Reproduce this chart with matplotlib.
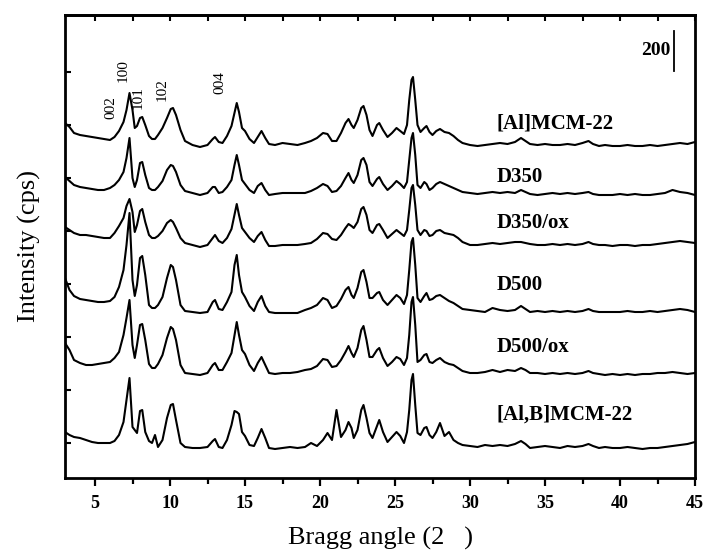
import numpy as np
import matplotlib
matplotlib.use("Agg")
import matplotlib.pyplot as plt
from matplotlib.ticker import MultipleLocator, FixedLocator, NullFormatter

# ---------------- data ----------------
two_theta = [
    3.0, 3.3, 3.6, 4.0, 4.4, 4.8, 5.2, 5.6, 6.0, 6.3,
    6.6, 6.9, 7.1, 7.3, 7.5, 7.65, 7.8, 8.0, 8.15, 8.35,
    8.6, 8.8, 9.0, 9.2, 9.5, 9.8, 10.05, 10.2, 10.4, 10.7,
    11.0, 11.5, 12.0, 12.5, 12.85, 13.0, 13.25, 13.5, 13.8, 14.1,
    14.3, 14.45, 14.6, 14.8, 15.0, 15.3, 15.6, 15.85, 16.1, 16.35,
    16.6, 17.0, 17.5, 18.0, 18.5, 19.0, 19.4, 19.8, 20.2, 20.5,
    20.8, 21.1, 21.4, 21.7, 21.9, 22.1, 22.25, 22.5, 22.75, 22.9,
    23.1, 23.3, 23.5, 23.8, 23.95, 24.2, 24.5, 24.8, 25.1, 25.35,
    25.6, 25.8, 25.95, 26.1, 26.2, 26.35, 26.5, 26.7, 26.95, 27.1,
    27.3, 27.5, 27.75, 28.0, 28.3, 28.6, 28.9, 29.2, 29.5, 30.0,
    30.5, 31.0, 31.5, 32.0, 32.5, 33.0, 33.4, 33.7, 34.0, 34.5,
    35.0, 35.5, 36.0, 36.5, 37.0, 37.5, 37.9, 38.2, 38.6, 39.0,
    39.5, 40.0, 40.5, 41.0, 41.5, 42.0, 42.5, 43.0, 43.5, 44.0,
    44.5, 45.0,
]

# intensities (cps, stacked as plotted)
int_al = [
    1775, 1755, 1725, 1715, 1710, 1705, 1700, 1695, 1690, 1705,
    1735, 1780, 1840, 1925, 1840, 1750, 1760, 1800, 1805, 1765,
    1710, 1695, 1695, 1715, 1750, 1800, 1845, 1850, 1815, 1740,
    1685, 1665, 1655, 1665, 1695, 1705, 1680, 1675, 1710, 1760,
    1825, 1875, 1830, 1750, 1735, 1695, 1675, 1705, 1735, 1700,
    1670, 1665, 1675, 1670, 1665, 1675, 1685, 1700, 1725, 1720,
    1685, 1685, 1725, 1775, 1795, 1765, 1750, 1790, 1850, 1860,
    1815, 1740, 1710, 1765, 1775, 1740, 1705, 1725, 1750, 1735,
    1720, 1765, 1890, 1990, 2005, 1890, 1765, 1730, 1750, 1760,
    1730, 1715, 1735, 1745, 1730, 1725, 1710, 1690, 1675, 1665,
    1660, 1665, 1670, 1675, 1670, 1680, 1700, 1685, 1670, 1665,
    1670, 1665, 1665, 1670, 1665, 1675, 1685, 1670, 1660, 1665,
    1660, 1660, 1665, 1660, 1660, 1665, 1660, 1665, 1670, 1675,
    1670, 1680,
]
int_d350 = [
    1505, 1485, 1465, 1455, 1450, 1445, 1440, 1440, 1450, 1465,
    1490, 1530, 1600, 1700, 1500, 1455, 1490, 1575, 1580, 1515,
    1450, 1440, 1440, 1455, 1485, 1540, 1565, 1560, 1530, 1465,
    1435, 1425, 1415, 1425, 1455, 1455, 1425, 1430, 1455, 1490,
    1565, 1615, 1565, 1490, 1470, 1440, 1425, 1460, 1475, 1440,
    1415, 1420, 1425, 1425, 1425, 1425, 1435, 1450, 1470, 1460,
    1430, 1435, 1460, 1500, 1525, 1490, 1475, 1515, 1590, 1600,
    1565, 1480, 1460, 1495, 1505, 1470, 1440, 1460, 1485, 1470,
    1450, 1480, 1590, 1700, 1725, 1615, 1465, 1450, 1480, 1470,
    1440, 1450, 1470, 1480, 1470, 1460, 1450, 1440, 1430, 1425,
    1420, 1425, 1430, 1425, 1430, 1425, 1440, 1430, 1420, 1415,
    1420, 1425, 1420, 1425, 1420, 1425, 1430, 1420, 1415, 1415,
    1415, 1420, 1415, 1420, 1415, 1415, 1420, 1425, 1440, 1430,
    1425, 1415,
]
int_d350ox = [
    1255, 1240, 1225, 1215, 1215, 1210, 1205, 1200, 1200, 1225,
    1260, 1300, 1360, 1395, 1330, 1230, 1265, 1335, 1345, 1280,
    1215, 1200, 1200, 1210, 1235, 1275, 1290, 1280, 1250, 1200,
    1175, 1165, 1155, 1165, 1200, 1215, 1185, 1175, 1200, 1245,
    1315, 1370, 1315, 1250, 1230, 1200, 1180, 1210, 1230, 1190,
    1160, 1160, 1165, 1165, 1165, 1170, 1175, 1195, 1225, 1220,
    1195, 1190, 1215, 1250, 1270, 1260, 1250, 1280, 1345, 1355,
    1315, 1240, 1225, 1265, 1270, 1240, 1200, 1220, 1240, 1225,
    1210, 1240, 1340, 1450, 1465, 1365, 1240, 1215, 1240, 1235,
    1210, 1215, 1235, 1240, 1225, 1220, 1215, 1200, 1180, 1165,
    1165, 1170, 1175, 1170, 1175, 1180, 1180, 1175, 1170, 1165,
    1165, 1170, 1165, 1170, 1165, 1170, 1180, 1170, 1165, 1165,
    1160, 1165, 1165, 1160, 1165, 1165, 1170, 1175, 1180, 1185,
    1180, 1175,
]
int_d500 = [
    1000, 940, 910, 895, 890, 885, 880, 880, 885, 905,
    955, 1040, 1165, 1325, 990, 910, 965, 1100, 1110, 1015,
    865, 850, 850, 865, 905, 1000, 1065, 1055, 990, 865,
    835, 830, 825, 830, 880, 890, 845, 840, 880, 930,
    1065, 1115, 1015, 930, 905, 860, 835, 880, 910, 860,
    830, 825, 825, 825, 825, 840, 850, 865, 900, 890,
    850, 860, 895, 940, 955, 915, 900, 950, 1030, 1040,
    980, 900, 900, 925, 930, 890, 865, 890, 915, 900,
    870, 915, 1040, 1180, 1200, 1065, 900, 880, 910, 925,
    890, 895, 910, 915, 900, 885, 875, 860, 845, 840,
    835, 830, 850, 840, 835, 840, 860, 845, 830, 835,
    830, 835, 830, 835, 830, 835, 845, 835, 830, 830,
    830, 830, 835, 830, 830, 835, 830, 835, 840, 845,
    840, 830,
]
int_d500ox = [
    675, 640, 590, 575, 565, 565, 570, 575, 580, 600,
    630, 715, 800, 890, 665, 600, 665, 765, 770, 690,
    570, 550, 550, 570, 615, 700, 755, 745, 690, 565,
    525, 520, 515, 525, 565, 575, 540, 540, 580, 625,
    715, 780, 715, 640, 620, 565, 535, 575, 605, 565,
    525, 520, 525, 525, 530, 540, 545, 560, 595, 590,
    555, 560, 590, 630, 660, 625, 605, 650, 740, 760,
    690, 605, 605, 640, 650, 600, 560, 580, 605, 595,
    565, 600, 715, 880, 905, 765, 580, 590, 615, 620,
    580, 575, 590, 600, 580, 570, 565, 550, 535, 525,
    525, 530, 540, 530, 540, 535, 550, 540, 525, 525,
    520, 525, 520, 525, 520, 525, 535, 525, 520, 515,
    520, 515, 520, 515, 520, 520, 525, 525, 530, 525,
    520, 525,
]
int_alb = [
    230, 215, 205, 200, 190, 180, 175, 175, 175, 185,
    215, 280, 390, 500, 255, 240, 225, 335, 340, 230,
    185, 175, 215, 155, 190, 300, 365, 370, 290, 175,
    155, 150, 150, 155, 185, 195, 155, 150, 190, 265,
    335, 330, 320, 230, 210, 165, 160, 200, 245, 200,
    150, 145, 150, 155, 150, 155, 175, 160, 190, 225,
    190, 340, 205, 240, 280, 250, 200, 240, 340, 365,
    300, 225, 200, 260, 290, 230, 180, 205, 230, 210,
    175, 230, 340, 490, 520, 365, 225, 215, 250, 255,
    215, 200, 230, 275, 210, 230, 190, 175, 165, 160,
    155, 165, 160, 165, 160, 170, 185, 170, 150, 155,
    160, 155, 150, 160, 155, 160, 170, 160, 150, 155,
    150, 150, 155, 150, 145, 150, 150, 155, 160, 165,
    170, 180,
]

series = [int_al, int_d350, int_d350ox, int_d500, int_d500ox, int_alb]
sample_names = ["[Al]MCM-22", "D350", "D350/ox", "D500", "D500/ox", "[Al,B]MCM-22"]
name_levels = [1775, 1505, 1275, 965, 655, 315]

hkl_labels = ["002", "100", "101", "102", "004"]
hkl_x = [6.07, 6.87, 7.87, 9.47, 13.33]
hkl_y = [1850, 2035, 1900, 1940, 1975]

scale_value = 200

# ---------------- figure ----------------
plt.rcParams['font.family'] = ['Liberation Serif', 'DejaVu Serif']
fig = plt.figure(figsize=(7.05, 5.55), dpi=100)
ax = fig.add_axes([65/705, 1-478/555, 630/705, 463/555])

for s in series:
    ax.plot(two_theta, s, color='black', lw=1.5)

ax.set_xlim(3, 45)
ax.set_ylim(0, 2315)

for name, lev in zip(sample_names, name_levels):
    ax.text(31.75, lev, name, ha='left', va='center', fontsize=15, fontweight='bold')

for lab, hx, hy in zip(hkl_labels, hkl_x, hkl_y):
    ax.text(hx, hy, lab, rotation=90, ha='center', va='center', fontsize=11)

# scale bar
ax.plot([43.6, 43.6], [2035, 2035 + scale_value], color='black', lw=1.3)
ax.text(43.4, 2140, str(scale_value), ha='right', va='center', fontsize=14, fontweight='bold')

# axes styling
for sp in ax.spines.values():
    sp.set_linewidth(2.0)

ax.xaxis.set_major_locator(MultipleLocator(5))
ax.xaxis.set_minor_locator(MultipleLocator(2.5))
ax.tick_params(axis='x', which='major', direction='out', length=6, width=1.6,
               labelsize=13, pad=6)
ax.tick_params(axis='x', which='minor', direction='out', length=4, width=1.6)
for lbl in ax.get_xticklabels():
    lbl.set_fontweight('bold')

ax.yaxis.set_major_locator(FixedLocator(np.arange(175, 2100, 265)))
ax.yaxis.set_major_formatter(NullFormatter())
ax.tick_params(axis='y', which='major', direction='in', length=4, width=1.5)

sec = ax.secondary_xaxis('top')
sec.xaxis.set_major_locator(MultipleLocator(2.5))
sec.tick_params(axis='x', direction='in', length=4, width=1.5, labeltop=False)
sec.spines['top'].set_linewidth(2.0)

ax.set_xlabel("Bragg angle (2   )", fontsize=19, labelpad=11)
ax.set_ylabel("Intensity (cps)", fontsize=19, labelpad=14)

fig.savefig("out.png", dpi=100)
